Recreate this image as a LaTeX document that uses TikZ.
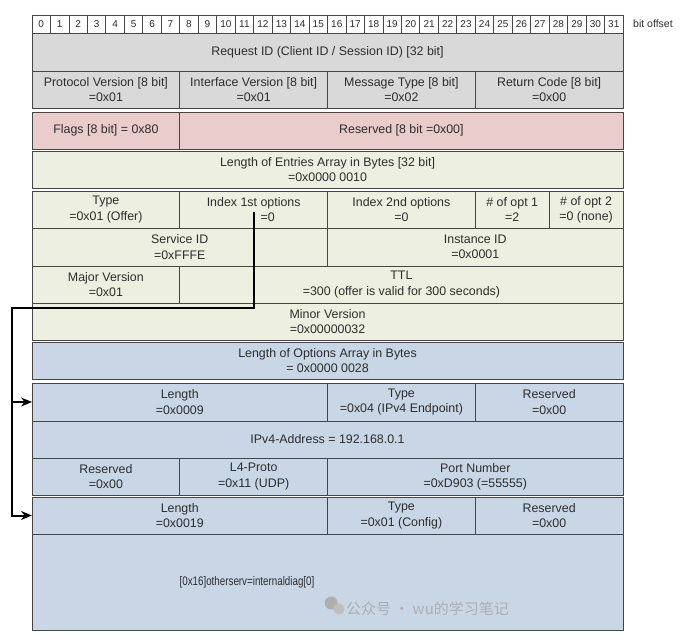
\documentclass[tikz,border=0pt]{standalone}
\usepackage{fontspec}
\setmainfont{Liberation Sans}
\newfontfamily\cjk{Noto Sans CJK SC}
\usetikzlibrary{arrows.meta}
\definecolor{hdrgray}{RGB}{217,217,217}
\definecolor{flagpink}{RGB}{234,204,204}
\definecolor{entrygreen}{RGB}{237,240,224}
\definecolor{optblue}{RGB}{200,214,230}
\definecolor{cellline}{RGB}{70,70,70}
\definecolor{txtgray}{RGB}{45,45,45}
\definecolor{wmgray}{RGB}{175,175,175}

\begin{document}
\begin{tikzpicture}[x=18.47pt, y=-1pt,
    field/.style 2 args={draw=cellline, line width=0.9pt, inner sep=0pt, outer sep=0pt,
      minimum width=#1*18.47pt, minimum height=#2pt, align=center, text=txtgray,
      font=\fontsize{12.4}{15.3}\selectfont},
    bitcell/.style={draw=cellline, line width=0.8pt, inner sep=0pt,
      minimum width=18.47pt, minimum height=18pt, text=txtgray,
      font=\fontsize{10}{12}\selectfont},
    ptr/.style={line width=2pt, -{Stealth[length=11pt,width=9pt]}}]
    \useasboundingbox (-1.7326,0) rectangle (35.734,642);

    % Bit ruler
    \foreach \b in {0,...,31} {
        \node[bitcell] (bit\b) at (\b+0.5,24) {\b};
    }
    \node[text=txtgray, font=\fontsize{10.5}{12}\selectfont] (bitoff) at (33.62,24) {bit offset};

    % SOME/IP header
    \node[field={32}{38}, fill=hdrgray] (reqid) at (16,52) {Request ID (Client ID / Session ID) [32 bit]};
    \node[field={8}{37}, fill=hdrgray] (protover) at (4,89.5) {Protocol Version [8 bit]\\=0x01};
    \node[field={8}{37}, fill=hdrgray] (ifver) at (12,89.5) {Interface Version [8 bit]\\=0x01};
    \node[field={8}{37}, fill=hdrgray] (msgtype) at (20,89.5) {Message Type [8 bit]\\=0x02};
    \node[field={8}{37}, fill=hdrgray] (retcode) at (28,89.5) {Return Code [8 bit]\\=0x00};

    % SD flags
    \node[field={8}{37}, fill=flagpink] (flags) at (4,130.5) {Flags [8 bit] = 0x80};
    \node[field={24}{37}, fill=flagpink] (resflags) at (20,130.5) {Reserved [8 bit =0x00]};

    % Entries array
    \node[field={32}{37}, fill=entrygreen] (entlen) at (16,169.5) {Length of Entries Array in Bytes [32 bit]\\=0x0000 0010};
    \node[field={8}{37}, fill=entrygreen] (etype) at (4,209.5) {Type\\=0x01 (Offer)};
    \node[field={8}{37}, fill=entrygreen] (idx1) at (12,209.5) {Index 1st options\\\hspace*{28pt}=0};
    \node[field={8}{37}, fill=entrygreen] (idx2) at (20,209.5) {Index 2nd options\\=0};
    \node[field={4}{37}, fill=entrygreen] (nopt1) at (26,209.5) {\# of opt 1\\=2};
    \node[field={4}{37}, fill=entrygreen] (nopt2) at (30,209.5) {\# of opt 2\\=0 (none)};
    \node[field={16}{38}, fill=entrygreen] (srvid) at (8,247) {Service ID\\=0xFFFE};
    \node[field={16}{38}, fill=entrygreen] (instid) at (24,247) {Instance ID\\=0x0001};
    \node[field={8}{37}, fill=entrygreen] (majver) at (4,284.5) {Major Version\\=0x01};
    \node[field={24}{37}, fill=entrygreen] (ttl) at (20,284.5) {TTL\\=300 (offer is valid for 300 seconds)};
    \node[field={32}{37}, fill=entrygreen] (minver) at (16,321.5) {Minor Version\\=0x00000032};

    % Options array
    \node[field={32}{37}, fill=optblue] (optlen) at (16,360.5) {Length of Options Array in Bytes\\= 0x0000 0028};
    \node[field={16}{38}, fill=optblue] (lenA) at (8,402) {Length\\=0x0009};
    \node[field={8}{38}, fill=optblue] (typeA) at (20,402) {Type\\=0x04 (IPv4 Endpoint)};
    \node[field={8}{38}, fill=optblue] (resA) at (28,402) {Reserved\\=0x00};
    \node[field={32}{37}, fill=optblue] (ipaddr) at (16,439.5) {IPv4-Address = 192.168.0.1};
    \node[field={8}{37}, fill=optblue] (resB) at (4,476.5) {Reserved\\=0x00};
    \node[field={8}{37}, fill=optblue] (proto) at (12,476.5) {L4-Proto\\=0x11 (UDP)};
    \node[field={16}{37}, fill=optblue] (port) at (24,476.5) {Port Number\\=0xD903 (=55555)};
    \node[field={16}{37}, fill=optblue] (lenB) at (8,515.5) {Length\\=0x0019};
    \node[field={8}{37}, fill=optblue] (typeB) at (20,515.5) {Type\\=0x01 (Config)};
    \node[field={8}{37}, fill=optblue] (resC) at (28,515.5) {Reserved\\=0x00};
    \node[field={32}{96}, fill=optblue] (cfgbox) at (16,582) {};
    \node[text=txtgray, font=\fontsize{12.4}{15}\selectfont] (cfgstr) at (11.64,582) {\scalebox{0.79}[1]{[0x16]otherserv=internaldiag[0]}};

    % Option pointers
    \coordinate (tap) at (12,212);
    \coordinate (bend) at (-1.083,308);
    \draw[ptr] (tap) |- (bend) |- (lenB.west);
    \draw[ptr] (bend |- lenA.west) -- (lenA.west);

    % Watermark
    \fill[wmgray] (16.2,603) circle (6.5pt);
    \fill[wmgray!80!white] (16.62,609) circle (5.5pt);
    \node[text=wmgray, font=\cjk\fontsize{15}{18}\selectfont] (wmark) at (21.41,609) {公众号 · wu的学习笔记};
\end{tikzpicture}
\end{document}
